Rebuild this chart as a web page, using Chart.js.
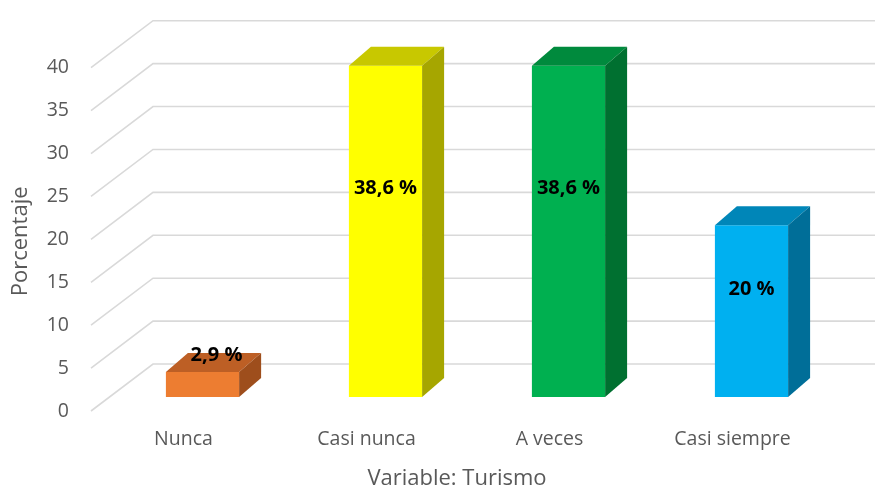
<!DOCTYPE html>
<html>
<head>
<meta charset="utf-8">
<script src="https://cdn.jsdelivr.net/npm/chart.js@4/dist/chart.umd.min.js"></script>
<style>
  body { margin: 0; background: #fff; }
  #wrap { width: 875px; height: 490px; }
</style>
</head>
<body>
<div id="wrap"><canvas id="turismoChart"></canvas></div>
<script>
// datos
const categorias = ['Nunca', 'Casi nunca', 'A veces', 'Casi siempre'];
const porcentajes = [2.9, 38.6, 38.6, 20];
const ticksY = [0, 5, 10, 15, 20, 25, 30, 35, 40];
const tituloX = 'Variable: Turismo';
const tituloY = 'Porcentaje';

const colorFrente = ['#ED7D31', '#FFFF00', '#00B050', '#00B0F0'];
const colorArriba = ['#BD5F25', '#C8C800', '#008A3D', '#0086B8'];
const colorLado = ['#9E4E1C', '#A6A600', '#007030', '#006E98'];

const DX = 22, DY = -19;         // profundidad de las barras
const WX = 62, WY = -47;         // pared lateral -> pared del fondo
const FRONT_Y = 14;              // desplazamiento del borde frontal de la pared

const fmt = v => String(v).replace('.', ',') + ' %';

const grid3d = {
  id: 'grid3d',
  beforeDatasetsDraw(chart) {
    const ctx = chart.ctx, y = chart.scales.y, area = chart.chartArea;
    const x0 = area.left - 20;
    ctx.save();
    ctx.strokeStyle = '#D9D9D9';
    ctx.lineWidth = 1.6;
    ticksY.forEach(t => {
      const py = y.getPixelForValue(t);
      ctx.beginPath();
      ctx.moveTo(x0, py + FRONT_Y);
      ctx.lineTo(x0 + WX, py + FRONT_Y + WY);
      ctx.lineTo(chart.width, py + FRONT_Y + WY);
      ctx.stroke();
    });
    // títulos de los ejes
    ctx.fillStyle = '#595959';
    ctx.font = '22px "Open Sans", sans-serif';
    ctx.textAlign = 'center';
    ctx.textBaseline = 'middle';
    ctx.fillText(tituloX, (area.left + area.right) / 2 - 20, 479);
    ctx.translate(21, (area.top + area.bottom) / 2 + 16);
    ctx.rotate(-Math.PI / 2);
    ctx.fillText(tituloY, 0, 0);
    ctx.restore();
  }
};

const caras3d = {
  id: 'caras3d',
  afterDatasetsDraw(chart) {
    const ctx = chart.ctx;
    const meta = chart.getDatasetMeta(0);
    ctx.save();
    meta.data.forEach((bar, i) => {
      const p = bar.getProps(['x', 'y', 'base', 'width'], true);
      const l = p.x - p.width / 2, r = p.x + p.width / 2, t = p.y, b = p.base;
      // cara superior
      ctx.fillStyle = colorArriba[i];
      ctx.beginPath();
      ctx.moveTo(l, t); ctx.lineTo(r, t);
      ctx.lineTo(r + DX, t + DY); ctx.lineTo(l + DX, t + DY);
      ctx.closePath(); ctx.fill();
      // cara lateral
      ctx.fillStyle = colorLado[i];
      ctx.beginPath();
      ctx.moveTo(r, t); ctx.lineTo(r + DX, t + DY);
      ctx.lineTo(r + DX, b + DY); ctx.lineTo(r, b);
      ctx.closePath(); ctx.fill();
    });
    // etiquetas
    ctx.fillStyle = '#000';
    ctx.font = 'bold 20px "Open Sans", sans-serif';
    ctx.textAlign = 'center';
    ctx.textBaseline = 'middle';
    meta.data.forEach((bar, i) => {
      const p = bar.getProps(['x', 'y', 'base'], true);
      const h = p.base - p.y;
      let lx = p.x, ly;
      if (h < 40) { lx = p.x + 14; ly = p.y - 17; }
      else { ly = p.y + h * 0.37; }
      ctx.fillText(fmt(porcentajes[i]), lx, ly);
    });
    ctx.restore();
  }
};

new Chart(document.getElementById('turismoChart'), {
  type: 'bar',
  data: {
    labels: categorias,
    datasets: [{
      data: porcentajes,
      backgroundColor: colorFrente,
      barPercentage: 0.8,
      categoryPercentage: 0.5
    }]
  },
  options: {
    responsive: true,
    maintainAspectRatio: false,
    animation: false,
    layout: { padding: { top: 51, right: 32, left: 0, bottom: 0 } },
    plugins: { legend: { display: false }, tooltip: { enabled: false } },
    scales: {
      x: {
        grid: { display: false, drawTicks: false },
        border: { display: false },
        ticks: { color: '#595959', font: { family: 'Open Sans', size: 19.5 }, padding: 31, labelOffset: -19 },
        afterFit: s => { s.height = 93; }
      },
      y: {
        min: 0, max: 40,
        grid: { display: false, drawTicks: false },
        border: { display: false },
        afterBuildTicks: s => { s.ticks = ticksY.map(v => ({ value: v })); },
        ticks: { color: '#595959', font: { family: 'Open Sans', size: 19.5 }, padding: 42, labelOffset: 14 },
        afterFit: s => { s.width = 111; }
      }
    }
  },
  plugins: [grid3d, caras3d]
});
</script>
</body>
</html>
